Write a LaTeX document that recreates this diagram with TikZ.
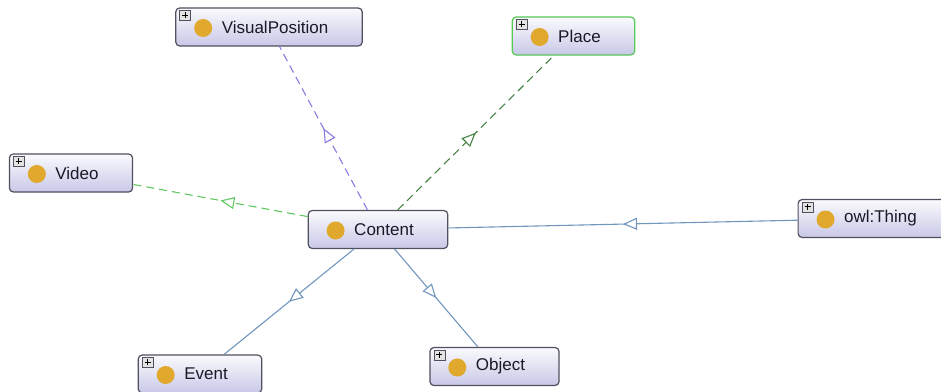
\documentclass[tikz,border=0pt]{standalone}
\usepackage{fontspec}
\setmainfont{Liberation Sans}
\usetikzlibrary{arrows.meta}
\usetikzlibrary{decorations.markings}

\definecolor{boxline}{RGB}{80,80,95}
\definecolor{boxtop}{RGB}{250,250,253}
\definecolor{boxbot}{RGB}{200,200,232}
\definecolor{textcol}{RGB}{25,25,40}
\definecolor{bulbcol}{RGB}{224,168,44}
\definecolor{isacol}{RGB}{112,150,190}
\definecolor{viscol}{RGB}{135,125,225}
\definecolor{placecol}{RGB}{70,130,70}
\definecolor{videocol}{RGB}{95,200,95}
\definecolor{placeborder}{RGB}{85,200,85}

\newcommand{\clsname}[1]{\hspace*{46pt}#1\hspace*{34pt}}

\begin{document}
\begin{tikzpicture}[x=1pt,y=-1pt,
            box/.style = {draw=boxline,line width=1.2pt,rounded corners=4pt,
                top color=boxtop,bottom color=boxbot,minimum height=38pt,
                inner xsep=0pt,inner ysep=2pt,text=textcol,
                font=\fontsize{17}{19}\selectfont},
            plusbox/.style = {draw=boxline,line width=0.6pt,fill=gray!22,
                minimum width=11pt,minimum height=10pt,inner sep=0pt,
                path picture={\draw[line width=0.9pt,black]
                    ([xshift=-3pt]path picture bounding box.center) --
                    ([xshift=3pt]path picture bounding box.center)
                    ([yshift=-3pt]path picture bounding box.center) --
                    ([yshift=3pt]path picture bounding box.center);}},
            isa/.style = {line width=1.1pt,isacol,
                postaction={decorate,decoration={markings,
                mark=at position 0.5 with {\arrow{Triangle[length=14pt,width=12pt,fill=white]}}}}},
            dashline/.style = {dash pattern=on 8pt off 5pt}]
            \useasboundingbox (0,0) rectangle (941,391);
            \node[box] (vis) at (269,27) {\clsname{VisualPosition}};
            \node[box,draw=placeborder] (place) at (573.5,36) {\clsname{Place}};
            \node[box] (video) at (71,173) {\clsname{Video}};
            \node[box] (content) at (378,229.5) {\clsname{Content}};
            \node[box] (thing) at (874.5,218.5) {\clsname{owl:Thing}};
            \node[box] (event) at (200,374) {\clsname{Event}};
            \node[box] (object) at (494.5,366.5) {\clsname{Object}};
            \foreach \n in {vis,place,video,thing,event,object}
                \node[plusbox] at ([xshift=10pt,yshift=-8pt]\n.north west) {};
            \foreach \n in {vis,place,video,content,thing,event,object}
                \fill[bulbcol] ([xshift=28pt,yshift=-1pt]\n.west) circle (9pt);
            \path[]
                (content) edge[isa,dashline,viscol] (vis)
                (content) edge[isa,dashline,placecol] (place)
                (content) edge[isa,dashline,videocol] (video)
                (thing) edge[isa] (content)
                (content) edge[isa] (event)
                (content) edge[isa] (object);
        \end{tikzpicture}
\end{document}
